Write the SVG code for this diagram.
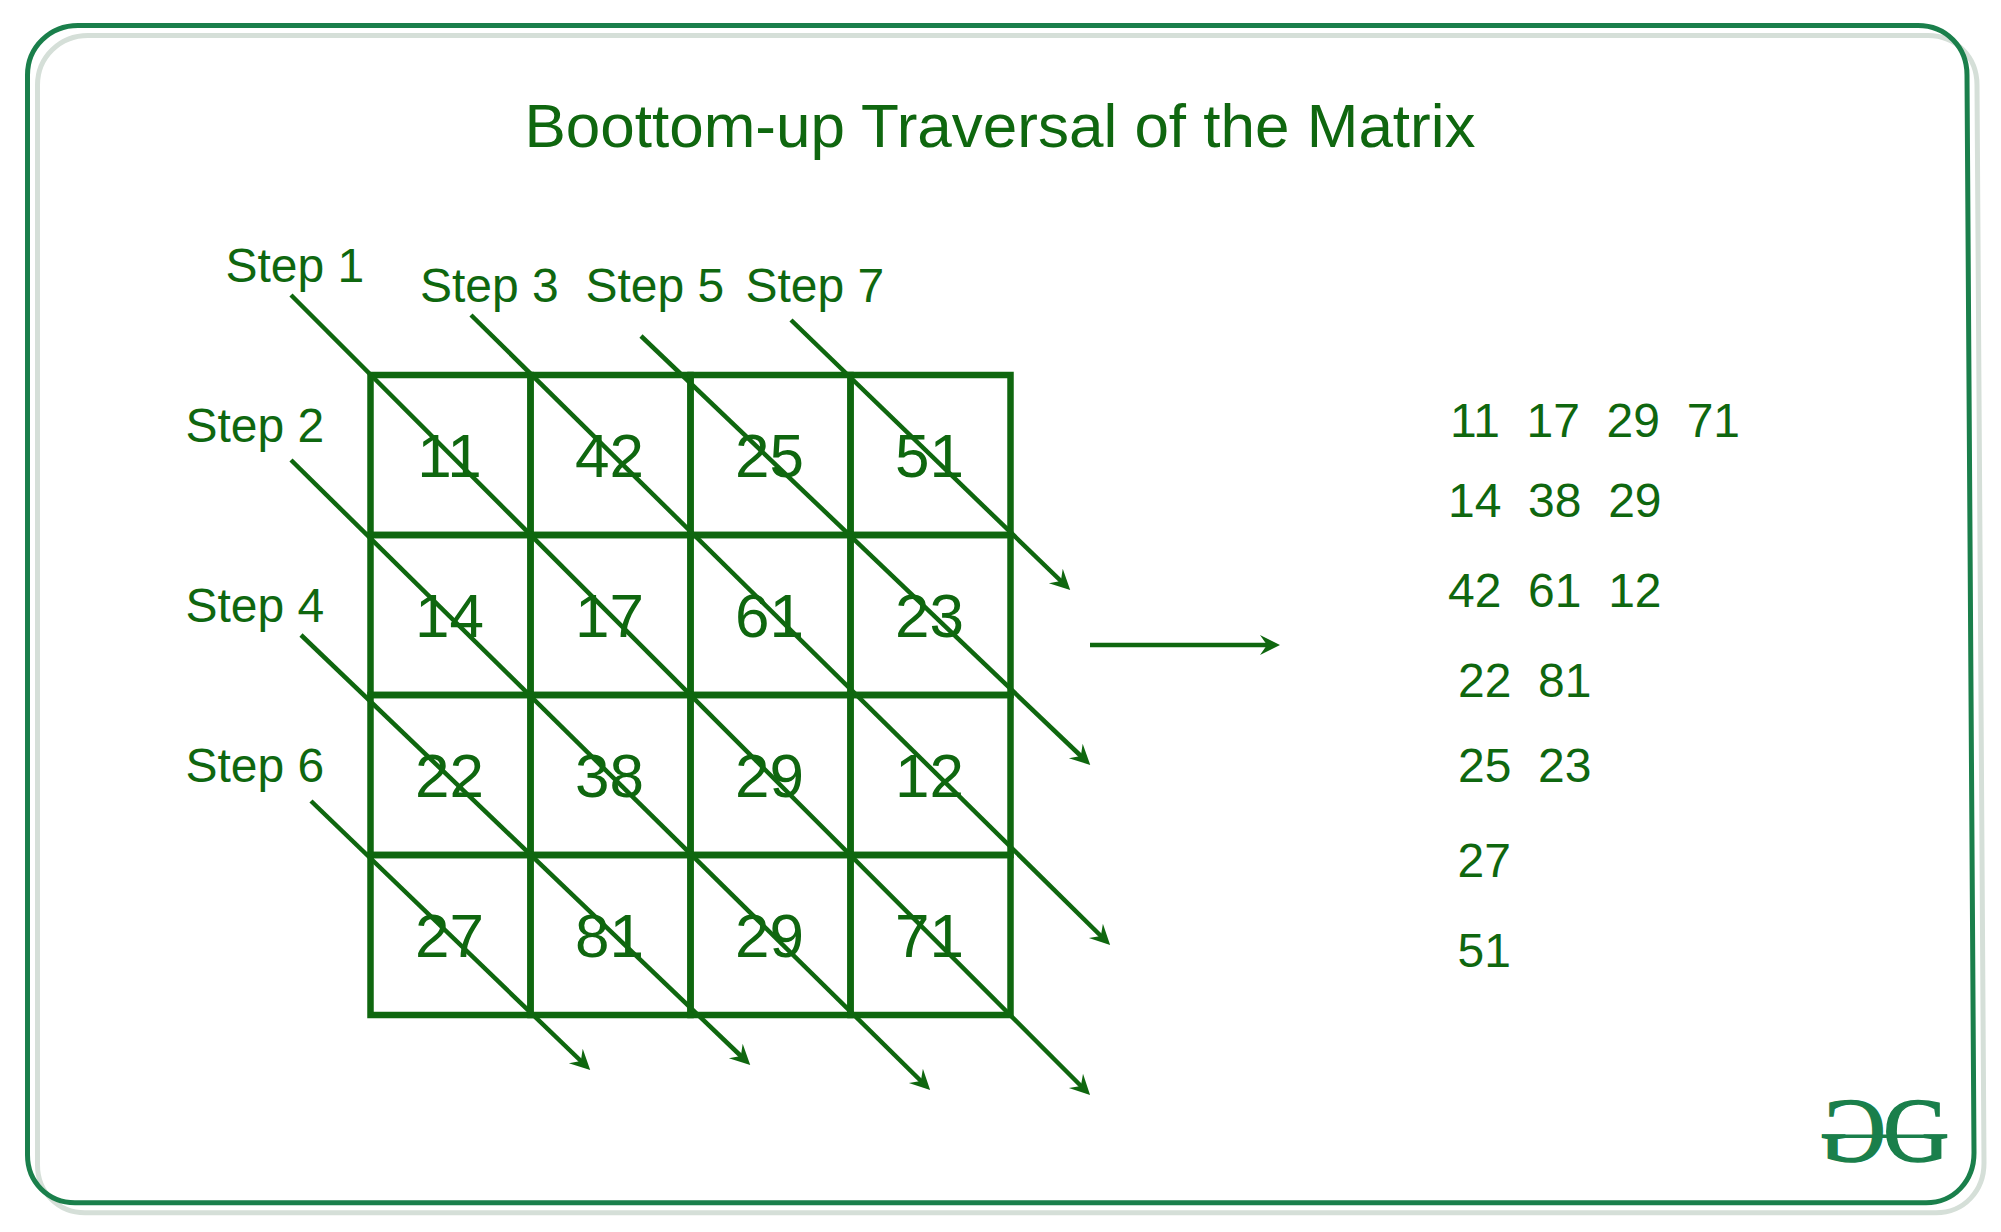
<svg xmlns="http://www.w3.org/2000/svg" width="2001" height="1232" viewBox="0 0 2001 1232">
<style>
text{font-family:"Liberation Sans",Arial,sans-serif;fill:#0f670f;white-space:pre}
.title{font-size:62px;text-anchor:middle}
.step,.res{font-size:48px}
.num{font-size:62px;text-anchor:middle}
.cell{fill:none;stroke:#0f670f;stroke-width:6.5}
.arrow{fill:none;stroke:#0f670f;stroke-width:4.5;marker-end:url(#head)}
.frame{fill:none;stroke-width:5}
.logo{font-family:"Liberation Serif",serif;font-size:92px;fill:#1a7f4b;stroke:#1a7f4b;stroke-width:1.4}
</style>
<defs>
<marker id="head" markerUnits="userSpaceOnUse" markerWidth="24" markerHeight="24" viewBox="0 -12 24 24" refX="10" refY="0" orient="auto"><path d="M20,0 L0,-10 L7,0 L0,10 Z" fill="#0f670f"/></marker>
</defs>
<rect width="2001" height="1232" fill="#ffffff"/>
<g id="frame">
<path class="frame" stroke="#d5dfd8" transform="translate(10,10)" d="M78,25.5 H1918 C1946,25.5 1967,47 1967,75 L1974,1153 C1974,1181 1954,1202.7 1926,1202.7 H75 C48,1202.7 27.5,1182 27.5,1155 V75 C27.5,47 50,25.5 78,25.5 Z"/>
<path class="frame" stroke="#1a7f4b" d="M78,25.5 H1918 C1946,25.5 1967,47 1967,75 L1974,1153 C1974,1181 1954,1202.7 1926,1202.7 H75 C48,1202.7 27.5,1182 27.5,1155 V75 C27.5,47 50,25.5 78,25.5 Z"/>
</g>
<g id="title"><text class="title" x="1000" y="147">Boottom-up Traversal of the Matrix</text></g>
<g id="matrix">
<g id="cell-0-0"><rect class="cell" x="370.5" y="375" width="160" height="160"/><text class="num" x="449.5" y="477">11</text></g>
<g id="cell-0-1"><rect class="cell" x="530.5" y="375" width="160" height="160"/><text class="num" x="609.5" y="477">42</text></g>
<g id="cell-0-2"><rect class="cell" x="690.5" y="375" width="160" height="160"/><text class="num" x="769.5" y="477">25</text></g>
<g id="cell-0-3"><rect class="cell" x="850.5" y="375" width="160" height="160"/><text class="num" x="929.5" y="477">51</text></g>
<g id="cell-1-0"><rect class="cell" x="370.5" y="535" width="160" height="160"/><text class="num" x="449.5" y="637">14</text></g>
<g id="cell-1-1"><rect class="cell" x="530.5" y="535" width="160" height="160"/><text class="num" x="609.5" y="637">17</text></g>
<g id="cell-1-2"><rect class="cell" x="690.5" y="535" width="160" height="160"/><text class="num" x="769.5" y="637">61</text></g>
<g id="cell-1-3"><rect class="cell" x="850.5" y="535" width="160" height="160"/><text class="num" x="929.5" y="637">23</text></g>
<g id="cell-2-0"><rect class="cell" x="370.5" y="695" width="160" height="160"/><text class="num" x="449.5" y="797">22</text></g>
<g id="cell-2-1"><rect class="cell" x="530.5" y="695" width="160" height="160"/><text class="num" x="609.5" y="797">38</text></g>
<g id="cell-2-2"><rect class="cell" x="690.5" y="695" width="160" height="160"/><text class="num" x="769.5" y="797">29</text></g>
<g id="cell-2-3"><rect class="cell" x="850.5" y="695" width="160" height="160"/><text class="num" x="929.5" y="797">12</text></g>
<g id="cell-3-0"><rect class="cell" x="370.5" y="855" width="160" height="160"/><text class="num" x="449.5" y="957">27</text></g>
<g id="cell-3-1"><rect class="cell" x="530.5" y="855" width="160" height="160"/><text class="num" x="609.5" y="957">81</text></g>
<g id="cell-3-2"><rect class="cell" x="690.5" y="855" width="160" height="160"/><text class="num" x="769.5" y="957">29</text></g>
<g id="cell-3-3"><rect class="cell" x="850.5" y="855" width="160" height="160"/><text class="num" x="929.5" y="957">71</text></g>
</g>
<g id="connectors">
<path class="arrow" d="M291,295 L1083,1088"/>
<path class="arrow" d="M471,315 L1103,938"/>
<path class="arrow" d="M641,336 L1083,758"/>
<path class="arrow" d="M791,320 L1063,583"/>
<path class="arrow" d="M291,460 L923,1083"/>
<path class="arrow" d="M301,635 L743,1058"/>
<path class="arrow" d="M311,801 L583,1063"/>
<path class="arrow" d="M1090,645 L1270,645"/>
</g>
<g id="steps">
<text class="step" x="225.5" y="282">Step 1</text>
<text class="step" x="185.5" y="442">Step 2</text>
<text class="step" x="420" y="302">Step 3</text>
<text class="step" x="185.5" y="622">Step 4</text>
<text class="step" x="585.5" y="302">Step 5</text>
<text class="step" x="185.5" y="782">Step 6</text>
<text class="step" x="745.5" y="302">Step 7</text>
</g>
<g id="result">
<text class="res" x="1450" y="437">11  17  29  71</text>
<text class="res" x="1448" y="517">14  38  29</text>
<text class="res" x="1448" y="607">42  61  12</text>
<text class="res" x="1458" y="697">22  81</text>
<text class="res" x="1458" y="782">25  23</text>
<text class="res" x="1457.5" y="877">27</text>
<text class="res" x="1457.5" y="967">51</text>
</g>
<g id="logo">
<text class="logo" x="1883" y="1161">G</text>
<text class="logo" transform="translate(1886,1161) scale(-1,1)" x="0" y="0">G</text>
<rect x="1822" y="1134.5" width="125" height="3.5" fill="#1a7f4b"/>
</g>
</svg>
